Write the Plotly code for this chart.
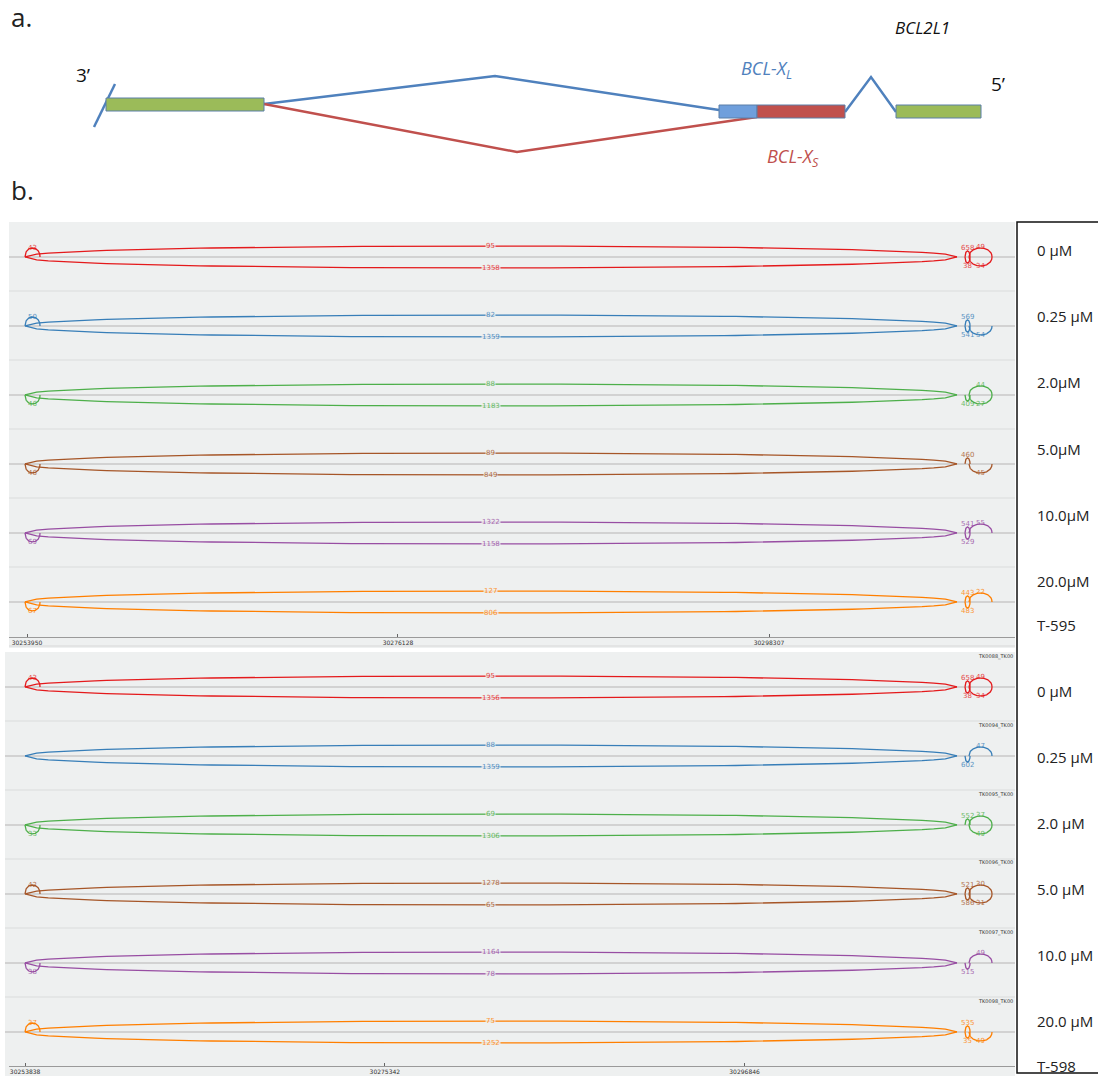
import plotly.graph_objects as go

W, H = 1098, 1076

# ---------------- Panel a: schematic of BCL2L1 (diagram units) ----------------
exon_x0 = [106, 719, 757, 896]
exon_x1 = [264, 757, 845, 981]
exon_y0 = [98, 105, 105, 105]
exon_y1 = [111, 118, 118, 118]
exon_fill = ["#9bbb59", "#6f9fdc", "#c0504d", "#9bbb59"]
xl_path_x = [264, 495, 719]
xl_path_y = [104, 76, 110]
xs_path_x = [264, 517, 757]
xs_path_y = [104, 152, 117]
intron_x = [845, 871, 896]
intron_y = [112, 77, 112]
cut_x = [94, 115]
cut_y = [127, 84]

# ---------------- Panel b: sashimi data ----------------
x_min, x_max = 30252874, 30313013
top_ticks = [30253950, 30276128, 30298307]
bot_ticks = [30253838, 30275342, 30296846]

# junctions: long exon3-exon2, short left, tiny loop, right exon2 junction
junc_start = {"long": 30253830, "left": 30253830, "loop": 30310024, "right": 30310263}
junc_end = {"long": 30309545, "left": 30254727, "loop": 30310323, "right": 30311638}

track_colors = ["#e41a1c", "#377eb8", "#4daf4a", "#a65628", "#984ea3", "#ff7f00"]

# counts per track (None = no arc) ; +1 above, -1 below
top_counts = {
    ("long", 1): [95, 82, 88, 89, 1322, 127],
    ("long", -1): [1358, 1359, 1183, 849, 1158, 806],
    ("left", 1): [43, 50, None, None, None, None],
    ("left", -1): [None, None, 46, 46, 69, 67],
    ("loop", 1): [658, 569, None, 460, 541, 443],
    ("loop", -1): [38, 541, 409, None, 529, 483],
    ("right", 1): [49, None, 44, None, 55, 22],
    ("right", -1): [34, 54, 27, 45, None, None],
}
bot_counts = {
    ("long", 1): [95, 88, 69, 1278, 1164, 75],
    ("long", -1): [1356, 1359, 1306, 65, 78, 1252],
    ("left", 1): [43, None, None, 42, None, 37],
    ("left", -1): [None, None, 33, None, 38, None],
    ("loop", 1): [658, None, 552, 521, None, 535],
    ("loop", -1): [38, 602, None, 586, 515, 35],
    ("right", 1): [49, 47, 37, 30, 49, None],
    ("right", -1): [34, None, 49, 31, None, 49],
}
top_conc = ["0 µM", "0.25 µM", "2.0µM", "5.0µM", "10.0µM", "20.0µM"]
bot_conc = ["0 µM", "0.25 µM", "2.0 µM", "5.0 µM", "10.0 µM", "20.0 µM"]
top_line = "T-595"
bot_line = "T-598"
track_names = ["TK0088_TK00", "TK0094_TK00", "TK0095_TK00", "TK0096_TK00", "TK0097_TK00", "TK0098_TK00"]

# ---------------- style constants ----------------
PX_PER_TRACK = 69.0
arc_height = {"long": 11 / 69, "left": 9 / 69, "loop": 6 / 69, "right": 9 / 69}
label_off = {"long": 0.0, "left": 0.0, "loop": 3 / 69, "right": 0.5 / 69}
arc_power = 0.45
BG = "#eef0f0"


def py(px):
    return 1 - px / H


fig = go.Figure()
shapes = []
annotations = []

# ---- panel a drawing ----
for x0, x1, y0, y1, c in zip(exon_x0, exon_x1, exon_y0, exon_y1, exon_fill):
    shapes.append(dict(type="rect", xref="x", yref="y", x0=x0, x1=x1, y0=y0, y1=y1,
                       fillcolor=c, line=dict(color="#5b7fa8", width=1), layer="above"))
fig.add_trace(go.Scatter(x=xl_path_x, y=xl_path_y, mode="lines", line=dict(color="#4f81bd", width=2.5),
                         xaxis="x", yaxis="y", hoverinfo="skip", showlegend=False))
fig.add_trace(go.Scatter(x=xs_path_x, y=xs_path_y, mode="lines", line=dict(color="#c0504d", width=2.5),
                         xaxis="x", yaxis="y", hoverinfo="skip", showlegend=False))
fig.add_trace(go.Scatter(x=intron_x, y=intron_y, mode="lines", line=dict(color="#4f81bd", width=2.5),
                         xaxis="x", yaxis="y", hoverinfo="skip", showlegend=False))
fig.add_trace(go.Scatter(x=cut_x, y=cut_y, mode="lines", line=dict(color="#4f81bd", width=2.5),
                         xaxis="x", yaxis="y", hoverinfo="skip", showlegend=False))

FONT = "Open Sans"
annotations += [
    dict(text="a.", x=9, y=17, xref="x", yref="y", xanchor="left", yanchor="middle", showarrow=False,
         font=dict(size=26, color="#222", family=FONT)),
    dict(text="b.", x=9, y=190, xref="x", yref="y", xanchor="left", yanchor="middle", showarrow=False,
         font=dict(size=26, color="#222", family=FONT)),
    dict(text="3’", x=74, y=75, xref="x", yref="y", xanchor="left", yanchor="middle", showarrow=False,
         font=dict(size=19, color="#111", family=FONT)),
    dict(text="5’", x=989, y=84, xref="x", yref="y", xanchor="left", yanchor="middle", showarrow=False,
         font=dict(size=19, color="#111", family=FONT)),
    dict(text="<i>BCL2L1</i>", x=893, y=27, xref="x", yref="y", xanchor="left", yanchor="middle", showarrow=False,
         font=dict(size=17, color="#111", family=FONT)),
    dict(text="<i>BCL-X<sub>L</sub></i>", x=739, y=69, xref="x", yref="y", xanchor="left", yanchor="middle",
         showarrow=False, font=dict(size=18, color="#4f81bd", family=FONT)),
    dict(text="<i>BCL-X<sub>S</sub></i>", x=765, y=157, xref="x", yref="y", xanchor="left", yanchor="middle",
         showarrow=False, font=dict(size=18, color="#c0504d", family=FONT)),
]


# ---- panel b drawing ----
def arc(j, base, side, n=80):
    g1, g2 = junc_start[j], junc_end[j]
    h = arc_height[j]
    xs, ys = [], []
    for k in range(n + 1):
        t = k / n
        xs.append(g1 + (g2 - g1) * t)
        ys.append(base + side * h * (4 * t * (1 - t)) ** arc_power)
    return xs, ys


def draw_panel(counts, xa, ya, top_px, axis_px, bot_px, left_px, names=None):
    yaxis_ref = ya
    # background
    shapes.append(dict(type="rect", xref="paper", yref="paper", x0=left_px / W, x1=1015 / W,
                       y0=py(bot_px), y1=py(top_px), fillcolor=BG, line=dict(width=0), layer="below"))
    for i in range(6):
        base = -(i + 0.507)
        # separator
        if i > 0:
            shapes.append(dict(type="line", xref="paper", yref=yaxis_ref, x0=left_px / W, x1=1015 / W,
                               y0=-i, y1=-i, line=dict(color="#dadcdc", width=1.2), layer="below"))
        # baseline
        shapes.append(dict(type="line", xref="paper", yref=yaxis_ref, x0=left_px / W, x1=1015 / W,
                           y0=base, y1=base, line=dict(color="#c8c9c9", width=1.5), layer="below"))
        xs_all, ys_all = [], []
        col = track_colors[i]
        for (j, side), vals in counts.items():
            v = vals[i]
            if v is None:
                continue
            xs, ys = arc(j, base, side)
            xs_all += xs + [None]
            ys_all += ys + [None]
            mid = (junc_start[j] + junc_end[j]) / 2
            annotations.append(dict(text=str(v), x=mid, y=base + side * (arc_height[j] + label_off[j]),
                                    xref=xa, yref=ya, showarrow=False, xanchor="center", yanchor="middle",
                                    font=dict(size=7, color=col, family="DejaVu Sans"), opacity=0.8,
                                    bgcolor=BG if j == "long" else None, borderpad=0))
        fig.add_trace(go.Scatter(x=xs_all, y=ys_all, mode="lines", line=dict(color=col, width=1.3),
                                 xaxis=xa, yaxis=ya, hoverinfo="skip", showlegend=False))
        if names:
            annotations.append(dict(text=names[i], x=1015 / W, y=py(top_px + 4 + i * PX_PER_TRACK),
                                    xref="paper", yref="paper", xanchor="right", yanchor="middle",
                                    showarrow=False, font=dict(size=5, color="#333", family="DejaVu Sans")))


draw_panel(top_counts, "x2", "y2", 222, 637, 648, 9)
draw_panel(bot_counts, "x3", "y3", 652, 1066, 1076, 5, names=track_names)

# faint line below top axis labels
shapes.append(dict(type="line", xref="paper", yref="paper", x0=9 / W, x1=1015 / W, y0=py(646), y1=py(646),
                   line=dict(color="#d8d8d8", width=1)))

# right label column
for k, txt in enumerate(top_conc):
    annotations.append(dict(text=txt, x=1035 / W, y=py(250 + k * 66.2), xref="paper", yref="paper",
                            xanchor="left", yanchor="middle", showarrow=False,
                            font=dict(size=15, color="#222", family=FONT)))
annotations.append(dict(text=top_line, x=1035 / W, y=py(625), xref="paper", yref="paper",
                        xanchor="left", yanchor="middle", showarrow=False,
                        font=dict(size=15, color="#222", family=FONT)))
for k, txt in enumerate(bot_conc):
    annotations.append(dict(text=txt, x=1035 / W, y=py(691 + k * 66), xref="paper", yref="paper",
                            xanchor="left", yanchor="middle", showarrow=False,
                            font=dict(size=15, color="#222", family=FONT)))
annotations.append(dict(text=bot_line, x=1035 / W, y=py(1066), xref="paper", yref="paper",
                        xanchor="left", yanchor="middle", showarrow=False,
                        font=dict(size=15, color="#222", family=FONT)))
shapes.append(dict(type="rect", xref="paper", yref="paper", x0=1017 / W, x1=1.01, y0=py(1073), y1=py(222),
                   line=dict(color="#111", width=1.5), layer="above"))

axis_common = dict(range=[x_min, x_max], showgrid=False, zeroline=False, showline=True,
                   linecolor="#9a9a9a", linewidth=1, ticks="inside", ticklen=3, tickcolor="#666",
                   tickfont=dict(size=6, color="#333", family="DejaVu Sans"), fixedrange=True)

fig.update_layout(
    width=W, height=H, margin=dict(l=0, r=0, t=0, b=0),
    paper_bgcolor="white", plot_bgcolor="rgba(0,0,0,0)",
    showlegend=False,
    xaxis=dict(domain=[0, 1], range=[0, W], visible=False, fixedrange=True),
    yaxis=dict(domain=[py(200), 1], range=[200, 0], visible=False, fixedrange=True),
    xaxis2=dict(domain=[9 / W, 1015 / W], anchor="y2", tickvals=top_ticks,
                ticktext=[str(t) for t in top_ticks], **axis_common),
    yaxis2=dict(domain=[py(637), py(222)], range=[-(637 - 222) / PX_PER_TRACK, 0], visible=False, fixedrange=True),
    xaxis3=dict(domain=[9 / W, 1015 / W], anchor="y3", tickvals=bot_ticks,
                ticktext=[str(t) for t in bot_ticks], **axis_common),
    yaxis3=dict(domain=[py(1066), py(652)], range=[-(1066 - 652) / PX_PER_TRACK, 0], visible=False, fixedrange=True),
    shapes=shapes,
    annotations=annotations,
)

fig.write_html("out.html")
